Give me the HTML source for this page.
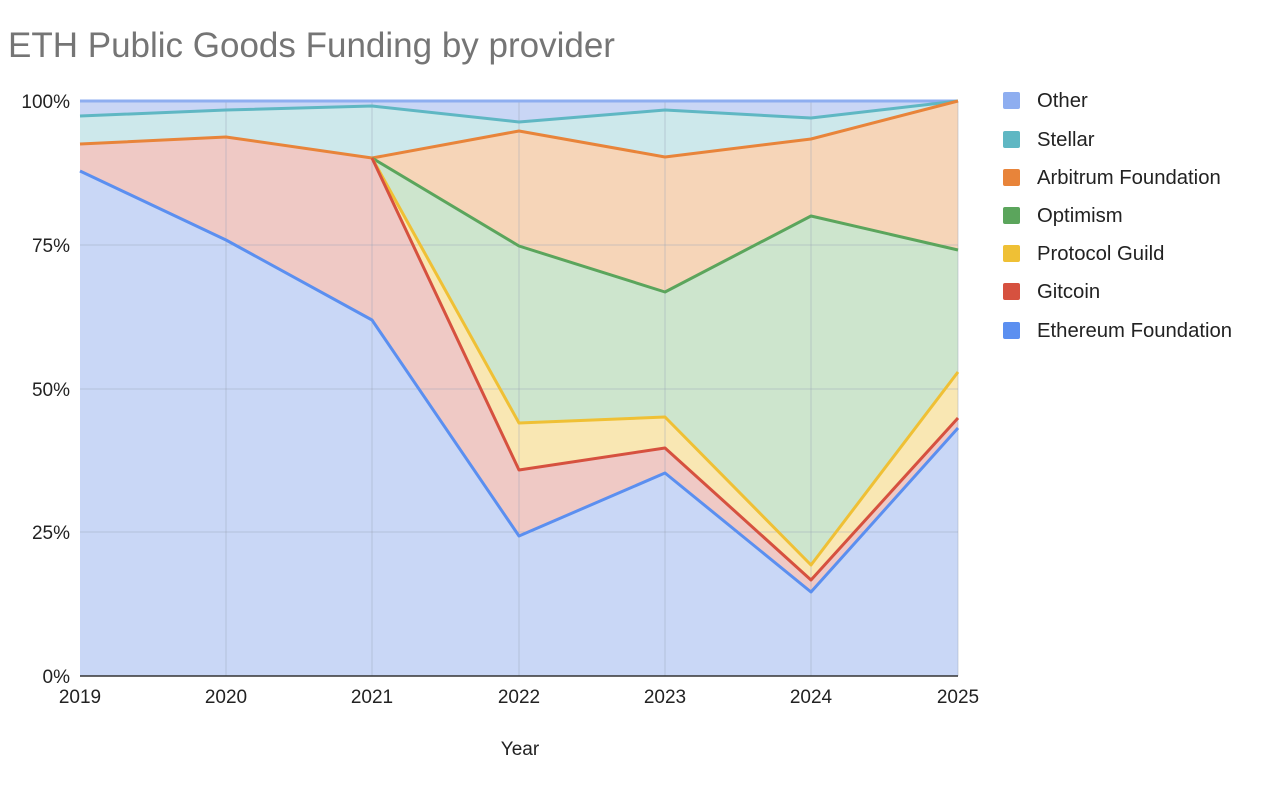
<!DOCTYPE html>
<html><head><meta charset="utf-8"><style>
body{margin:0;background:#fff;width:1269px;height:787px;overflow:hidden;font-family:"Liberation Sans",Arial,sans-serif}
</style></head><body>
<svg width="1269" height="787" xmlns="http://www.w3.org/2000/svg" font-family="Liberation Sans, Arial, sans-serif">
<text x="8" y="57" font-size="35" fill="#757575">ETH Public Goods Funding by provider</text>
<polygon points="80,101 958,101 958,101 811,118 665,110 519,122 372,106 226,110 80,116" fill="#c9d6f5"/>
<polygon points="80,116 226,110 372,106 519,122 665,110 811,118 958,101 958,101 811,139 665,157 519,131 372,158 226,137 80,144" fill="#cde8eb"/>
<polygon points="372,158 519,131 665,157 811,139 958,101 958,250 811,216 665,292 519,246 372,158" fill="#f6d5b8"/>
<polygon points="372,158 519,246 665,292 811,216 958,250 958,372 811,565 665,417 519,423 372,158" fill="#cde5cd"/>
<polygon points="372,158 519,423 665,417 811,565 958,372 958,418 811,580 665,448 519,470 372,158" fill="#f9e7b3"/>
<polygon points="80,144 226,137 372,158 519,470 665,448 811,580 958,418 958,428 811,592 665,473 519,536 372,320 226,240 80,171" fill="#efc9c5"/>
<polygon points="80,171 226,240 372,320 519,536 665,473 811,592 958,428 958,676 80,676" fill="#c9d7f6"/>
<g stroke="#9aa3b5" stroke-opacity="0.45" stroke-width="1">
<line x1="80" y1="101" x2="958" y2="101"/><line x1="80" y1="245" x2="958" y2="245"/><line x1="80" y1="389" x2="958" y2="389"/><line x1="80" y1="532" x2="958" y2="532"/>
<line x1="226" y1="101" x2="226" y2="676"/><line x1="372" y1="101" x2="372" y2="676"/><line x1="519" y1="101" x2="519" y2="676"/><line x1="665" y1="101" x2="665" y2="676"/><line x1="811" y1="101" x2="811" y2="676"/><line x1="958" y1="101" x2="958" y2="676"/>
</g>
<g fill="none" stroke-width="3" stroke-linejoin="round">
<polyline points="80,101 958,101" stroke="#8eaef0"/>
<polyline points="80,116 226,110 372,106 519,122 665,110 811,118 958,101" stroke="#5fb7c3"/>
<polyline points="80,144 226,137 372,158 519,131 665,157 811,139 958,101" stroke="#e8843a"/>
<polyline points="372,158 519,246 665,292 811,216 958,250" stroke="#5ba55c"/>
<polyline points="372,158 519,423 665,417 811,565 958,372" stroke="#efc035"/>
<polyline points="372,158 519,470 665,448 811,580 958,418" stroke="#d6513f"/>
<polyline points="80,171 226,240 372,320 519,536 665,473 811,592 958,428" stroke="#5b8ff0"/>
</g>
<line x1="80" y1="676" x2="958" y2="676" stroke="#333" stroke-width="1.5"/>
<g font-size="19" fill="#222" text-anchor="end">
<text x="70" y="108">100%</text><text x="70" y="252">75%</text><text x="70" y="396">50%</text><text x="70" y="539">25%</text><text x="70" y="683">0%</text>
</g>
<g font-size="19" fill="#222" text-anchor="middle">
<text x="80" y="703">2019</text><text x="226" y="703">2020</text><text x="372" y="703">2021</text><text x="519" y="703">2022</text><text x="665" y="703">2023</text><text x="811" y="703">2024</text><text x="958" y="703">2025</text>
<text x="520" y="755">Year</text>
</g>
<g font-size="20.3" fill="#222">
<rect x="1003" y="92" width="17" height="17" rx="2" fill="#8eaef0"/><text x="1037" y="107">Other</text>
<rect x="1003" y="131" width="17" height="17" rx="2" fill="#5fb7c3"/><text x="1037" y="146">Stellar</text>
<rect x="1003" y="169" width="17" height="17" rx="2" fill="#e8843a"/><text x="1037" y="184">Arbitrum Foundation</text>
<rect x="1003" y="207" width="17" height="17" rx="2" fill="#5ba55c"/><text x="1037" y="222">Optimism</text>
<rect x="1003" y="245" width="17" height="17" rx="2" fill="#efc035"/><text x="1037" y="260">Protocol Guild</text>
<rect x="1003" y="283" width="17" height="17" rx="2" fill="#d6513f"/><text x="1037" y="298">Gitcoin</text>
<rect x="1003" y="322" width="17" height="17" rx="2" fill="#5b8ff0"/><text x="1037" y="337">Ethereum Foundation</text>
</g>
</svg>
</body></html>
